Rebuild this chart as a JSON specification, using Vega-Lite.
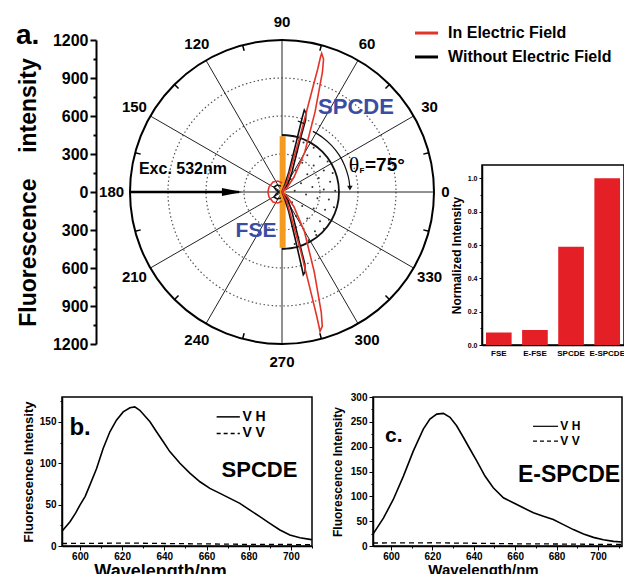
{
  "$schema": "https://vega.github.io/schema/vega-lite/v6.json",
  "padding": {"left": 16, "top": 14, "right": 0, "bottom": 0},
  "spacing": 20,
  "config": {
    "font": "Liberation Sans",
    "view": {"stroke": null},
    "axis": {"labelFontWeight": "bold", "titleFontWeight": "bold", "domainColor": "#000", "tickColor": "#000", "labelColor": "#000", "titleColor": "#000", "grid": false, "labelFlush": false, "labelOverlap": false}
  },
  "vconcat": [
    {
      "bounds": "flush",
      "spacing": 48,
      "hconcat": [
        {"width": 20, "height": 304, "data": {"values": [{"t": ""}]}, "mark": "text", "encoding": {"text": {"field": "t"}}},
        {
          "width": 304,
          "height": 304,
          "encoding": {
            "x": {"field": "x", "type": "quantitative", "scale": {"domain": [-1200, 1200], "nice": false, "zero": false}, "axis": null},
            "y": {"field": "y", "type": "quantitative", "scale": {"domain": [-1200, 1200], "nice": false, "zero": false},
              "axis": {"values": [-1200, -1050, -900, -750, -600, -450, -300, -150, 0, 150, 300, 450, 600, 750, 900, 1050, 1200],
                "labelExpr": "datum.value % 300 == 0 ? abs(datum.value) : ''",
                "tickSize": {"condition": {"test": "datum.value % 300 != 0", "value": 3}, "value": 6},
                "offset": 34, "title": "Fluorescence\u00a0\u00a0\u00a0\u00a0intensity", "titleFontSize": 23, "titlePadding": 12,
                "labelFontSize": 16, "labelPadding": 2, "domainWidth": 2, "tickWidth": 2}}
          },
          "layer": [
            {"data": {"values": [
              {"x": 90, "y": 400}, {"x": 170, "y": 390}, {"x": 250, "y": 350}, {"x": 120, "y": 320}, {"x": 200, "y": 290}, {"x": 300, "y": 280}, {"x": 360, "y": 240}, {"x": 80, "y": 250}, {"x": 160, "y": 230}, {"x": 250, "y": 210}, {"x": 330, "y": 170}, {"x": 400, "y": 150}, {"x": 110, "y": 170}, {"x": 200, "y": 140}, {"x": 290, "y": 110}, {"x": 380, "y": 80}, {"x": 70, "y": 100}, {"x": 150, "y": 70}, {"x": 240, "y": 40}, {"x": 330, "y": 20}, {"x": 420, "y": 10}, {"x": 100, "y": 10}, {"x": 190, "y": -20}, {"x": 280, "y": -50}, {"x": 370, "y": -60}, {"x": 80, "y": -80}, {"x": 160, "y": -110}, {"x": 250, "y": -130}, {"x": 340, "y": -140}, {"x": 410, "y": -120}, {"x": 110, "y": -190}, {"x": 200, "y": -210}, {"x": 300, "y": -230}, {"x": 370, "y": -220}, {"x": 80, "y": -270}, {"x": 170, "y": -290}, {"x": 260, "y": -310}, {"x": 330, "y": -290}, {"x": 130, "y": -360}, {"x": 210, "y": -380}, {"x": 100, "y": -410}, {"x": 270, "y": -340}
            ]}, "mark": {"type": "point", "filled": true, "size": 4, "color": "#333", "opacity": 1}},
            {"data": {"values": [{"x": 0, "y": 0, "r": 300}, {"x": 0, "y": 0, "r": 600}, {"x": 0, "y": 0, "r": 900}]},
              "mark": {"type": "point", "filled": false, "stroke": "#555", "strokeWidth": 1.2, "strokeDash": [1.5, 2.5], "opacity": 1},
              "encoding": {"size": {"field": "r", "type": "quantitative", "scale": {"type": "pow", "exponent": 2, "domain": [0, 1200], "range": [0, 92416]}, "legend": null}}},
            {"data": {"values": [
              {"x": 1200, "y": 0, "x2": -1200, "y2": 0},
              {"x": 1039.2, "y": 600, "x2": -1039.2, "y2": -600},
              {"x": 600, "y": 1039.2, "x2": -600, "y2": -1039.2},
              {"x": 0, "y": 1200, "x2": 0, "y2": -1200},
              {"x": -600, "y": 1039.2, "x2": 600, "y2": -1039.2},
              {"x": -1039.2, "y": 600, "x2": 1039.2, "y2": -600}
            ]}, "mark": {"type": "rule", "color": "#222", "strokeWidth": 1}, "encoding": {"x2": {"field": "x2"}, "y2": {"field": "y2"}}},
            {"data": {"values": [{"x": 0, "y": 0, "r": 1200}]},
              "mark": {"type": "point", "filled": false, "stroke": "#000", "strokeWidth": 2, "opacity": 1},
              "encoding": {"size": {"field": "r", "type": "quantitative", "scale": {"type": "pow", "exponent": 2, "domain": [0, 1200], "range": [0, 92416]}, "legend": null}}},
            {"data": {"values": [
              {"x": 1159.1, "y": 310.6, "x2": 1115.6, "y2": 298.9},
              {"x": 848.5, "y": 848.5, "x2": 816.7, "y2": 816.7},
              {"x": 310.6, "y": 1159.1, "x2": 298.9, "y2": 1115.6},
              {"x": -310.6, "y": 1159.1, "x2": -298.9, "y2": 1115.6},
              {"x": -848.5, "y": 848.5, "x2": -816.7, "y2": 816.7},
              {"x": -1159.1, "y": 310.6, "x2": -1115.6, "y2": 298.9},
              {"x": -1159.1, "y": -310.6, "x2": -1115.6, "y2": -298.9},
              {"x": -848.5, "y": -848.5, "x2": -816.7, "y2": -816.7},
              {"x": -310.6, "y": -1159.1, "x2": -298.9, "y2": -1115.6},
              {"x": 310.6, "y": -1159.1, "x2": 298.9, "y2": -1115.6},
              {"x": 848.5, "y": -848.5, "x2": 816.7, "y2": -816.7},
              {"x": 1159.1, "y": -310.6, "x2": 1115.6, "y2": -298.9}
            ]}, "mark": {"type": "rule", "color": "#000", "strokeWidth": 1.5}, "encoding": {"x2": {"field": "x2"}, "y2": {"field": "y2"}}},
            {"data": {"values": [{"x": 5, "y": 440, "y2": -440}]}, "mark": {"type": "rule", "color": "#f39a1f", "strokeWidth": 6}, "encoding": {"y2": {"field": "y2"}}},
            {"data": {"values": [
              {"x": 0, "y": 450}, {"x": 116.5, "y": 434.7}, {"x": 225, "y": 389.7}, {"x": 318.2, "y": 318.2}, {"x": 389.7, "y": 225}, {"x": 434.7, "y": 116.5}, {"x": 450, "y": 0}, {"x": 434.7, "y": -116.5}, {"x": 389.7, "y": -225}, {"x": 318.2, "y": -318.2}, {"x": 225, "y": -389.7}, {"x": 116.5, "y": -434.7}, {"x": 0, "y": -450}
            ]}, "mark": {"type": "line", "color": "#111", "strokeWidth": 1.8, "interpolate": "cardinal"}, "encoding": {"order": {"value": null}}},
            {"data": {"values": [
              {"s": "top", "x": 0, "y": 0}, {"s": "top", "x": 24, "y": 63}, {"s": "top", "x": 54, "y": 158}, {"s": "top", "x": 113, "y": 395}, {"s": "top", "x": 161, "y": 592}, {"s": "top", "x": 176, "y": 647}, {"s": "top", "x": 189, "y": 624}, {"s": "top", "x": 186, "y": 568}, {"s": "top", "x": 138, "y": 395}, {"s": "top", "x": 79, "y": 158}, {"s": "top", "x": 47, "y": 63}, {"s": "top", "x": 0, "y": 0},
              {"s": "bot", "x": 0, "y": 0}, {"s": "bot", "x": 24, "y": -63}, {"s": "bot", "x": 54, "y": -158}, {"s": "bot", "x": 110, "y": -395}, {"s": "bot", "x": 155, "y": -592}, {"s": "bot", "x": 168, "y": -653}, {"s": "bot", "x": 183, "y": -630}, {"s": "bot", "x": 180, "y": -568}, {"s": "bot", "x": 136, "y": -395}, {"s": "bot", "x": 79, "y": -158}, {"s": "bot", "x": 47, "y": -63}, {"s": "bot", "x": 0, "y": 0},
              {"s": "small", "x": -8, "y": 47}, {"s": "small", "x": -39, "y": 55}, {"s": "small", "x": -63, "y": 39}, {"s": "small", "x": -47, "y": 16}, {"s": "small", "x": -24, "y": 0}, {"s": "small", "x": -47, "y": -16}, {"s": "small", "x": -63, "y": -39}, {"s": "small", "x": -39, "y": -55}, {"s": "small", "x": -8, "y": -47}
            ]}, "mark": {"type": "line", "color": "#111", "strokeWidth": 1.6}, "encoding": {"detail": {"field": "s"}, "order": {"value": null}}},
            {"data": {"values": [
              {"s": "top", "x": 0, "y": 0}, {"s": "top", "x": 39, "y": 79}, {"s": "top", "x": 152, "y": 474}, {"s": "top", "x": 234, "y": 790}, {"s": "top", "x": 282, "y": 971}, {"s": "top", "x": 304, "y": 1066}, {"s": "top", "x": 313, "y": 1095}, {"s": "top", "x": 328, "y": 1050}, {"s": "top", "x": 319, "y": 947}, {"s": "top", "x": 261, "y": 632}, {"s": "top", "x": 180, "y": 316}, {"s": "top", "x": 95, "y": 118}, {"s": "top", "x": 39, "y": 32}, {"s": "top", "x": 0, "y": 0},
              {"s": "bot", "x": 0, "y": 0}, {"s": "bot", "x": 39, "y": -79}, {"s": "bot", "x": 150, "y": -474}, {"s": "bot", "x": 228, "y": -790}, {"s": "bot", "x": 272, "y": -971}, {"s": "bot", "x": 293, "y": -1066}, {"s": "bot", "x": 300, "y": -1100}, {"s": "bot", "x": 318, "y": -1060}, {"s": "bot", "x": 310, "y": -950}, {"s": "bot", "x": 255, "y": -632}, {"s": "bot", "x": 178, "y": -316}, {"s": "bot", "x": 95, "y": -118}, {"s": "bot", "x": 39, "y": -32}, {"s": "bot", "x": 0, "y": 0},
              {"s": "c", "x": 0, "y": 71}, {"s": "c", "x": -32, "y": 87}, {"s": "c", "x": -71, "y": 79}, {"s": "c", "x": -103, "y": 39}, {"s": "c", "x": -111, "y": 0}, {"s": "c", "x": -103, "y": -39}, {"s": "c", "x": -71, "y": -79}, {"s": "c", "x": -32, "y": -87}, {"s": "c", "x": 0, "y": -71}
            ]}, "mark": {"type": "line", "color": "#e3342a", "strokeWidth": 1.6}, "encoding": {"detail": {"field": "s"}, "order": {"value": null}}},
            {"data": {"values": [
              {"x": 243.8, "y": 478.5}, {"x": 323.2, "y": 428.9}, {"x": 392.7, "y": 366.2}, {"x": 450.4, "y": 292.5}, {"x": 494.3, "y": 209.8}, {"x": 523.2, "y": 120.8}, {"x": 535, "y": 46.8}
            ]}, "mark": {"type": "line", "color": "#111", "strokeWidth": 1.2, "interpolate": "cardinal"}, "encoding": {"order": {"value": null}}},
            {"data": {"values": [{"x": 536, "y": 30}]}, "mark": {"type": "point", "shape": "triangle-down", "filled": true, "size": 30, "color": "#111", "opacity": 1}},
            {"data": {"values": [{"x": 125, "y": 560, "x2": 175, "y2": 540}]}, "mark": {"type": "rule", "color": "#111", "strokeWidth": 1.2}, "encoding": {"x2": {"field": "x2"}, "y2": {"field": "y2"}}},
            {"data": {"values": [{"x": -1200, "y": 0, "x2": -340}]}, "mark": {"type": "rule", "color": "#000", "strokeWidth": 2.5}, "encoding": {"x2": {"field": "x2"}}},
            {"data": {"values": [{"x": -395, "y": 0}]}, "mark": {"type": "point", "shape": "M-1,-0.4L1,0L-1,0.4Z", "filled": true, "size": 400, "color": "#000", "opacity": 1}},
            {"data": {"values": [{"x": 1050, "y": 1255, "x2": 1232}]}, "mark": {"type": "rule", "color": "#e3342a", "strokeWidth": 3}, "encoding": {"x2": {"field": "x2"}}},
            {"data": {"values": [{"x": 1050, "y": 1066, "x2": 1232}]}, "mark": {"type": "rule", "color": "#000", "strokeWidth": 3}, "encoding": {"x2": {"field": "x2"}}},
            {"data": {"values": [{"x": 1311, "y": 1255, "t": "In Electric Field"}, {"x": 1311, "y": 1066, "t": "Without Electric Field"}]},
              "mark": {"type": "text", "align": "left", "baseline": "middle", "fontSize": 16, "fontWeight": "bold", "color": "#000"}, "encoding": {"text": {"field": "t"}}},
            {"data": {"values": [
              {"x": 1290, "y": 0, "t": "0"}, {"x": 1165, "y": 672, "t": "30"}, {"x": 672, "y": 1165, "t": "60"}, {"x": 0, "y": 1345, "t": "90"}, {"x": -672, "y": 1165, "t": "120"}, {"x": -1165, "y": 672, "t": "150"}, {"x": -1345, "y": 0, "t": "180"}, {"x": -1165, "y": -672, "t": "210"}, {"x": -672, "y": -1165, "t": "240"}, {"x": 0, "y": -1345, "t": "270"}, {"x": 672, "y": -1165, "t": "300"}, {"x": 1165, "y": -672, "t": "330"}
            ]}, "mark": {"type": "text", "align": "center", "baseline": "middle", "fontSize": 15, "fontWeight": "bold", "color": "#000"}, "encoding": {"text": {"field": "t"}}},
            {"data": {"values": [{"x": -782, "y": 182, "t": "Exc. 532nm"}]}, "mark": {"type": "text", "align": "center", "baseline": "middle", "fontSize": 16, "fontWeight": "bold", "color": "#000"}, "encoding": {"text": {"field": "t"}}},
            {"data": {"values": [{"x": 584, "y": 671, "t": "SPCDE"}]}, "mark": {"type": "text", "align": "center", "baseline": "middle", "fontSize": 22, "fontWeight": "bold", "color": "#3b4ca3"}, "encoding": {"text": {"field": "t"}}},
            {"data": {"values": [{"x": -205, "y": -308, "t": "FSE"}]}, "mark": {"type": "text", "align": "center", "baseline": "middle", "fontSize": 21, "fontWeight": "bold", "color": "#3b4ca3"}, "encoding": {"text": {"field": "t"}}},
            {"data": {"values": [{"x": 568, "y": 213, "t": "θ"}]}, "mark": {"type": "text", "align": "center", "baseline": "middle", "fontSize": 22, "font": "Liberation Serif", "color": "#000"}, "encoding": {"text": {"field": "t"}}},
            {"data": {"values": [{"x": 632, "y": 166, "t": "F"}]}, "mark": {"type": "text", "align": "center", "baseline": "middle", "fontSize": 8, "fontWeight": "bold", "color": "#000"}, "encoding": {"text": {"field": "t"}}},
            {"data": {"values": [{"x": 655, "y": 213, "t": "=75°"}]}, "mark": {"type": "text", "align": "left", "baseline": "middle", "fontSize": 19, "fontWeight": "bold", "color": "#000"}, "encoding": {"text": {"field": "t"}}},
            {"data": {"values": [{"x": -2100, "y": 1232, "t": "a."}]}, "mark": {"type": "text", "align": "left", "baseline": "middle", "fontSize": 28, "fontWeight": "bold", "color": "#000"}, "encoding": {"text": {"field": "t"}}}
          ]
        },
        {
          "bounds": "flush",
          "spacing": 0,
          "vconcat": [
            {"width": 142, "height": 125, "data": {"values": [{"t": ""}]}, "mark": "text", "encoding": {"text": {"field": "t"}}},
            {
              "width": 142,
              "height": 180,
              "view": {"stroke": "#000", "strokeWidth": 1.5},
              "data": {"values": [{"k": "FSE", "v": 0.075}, {"k": "E-FSE", "v": 0.09}, {"k": "SPCDE", "v": 0.59}, {"k": "E-SPCDE", "v": 1.0}]},
              "mark": {"type": "bar", "color": "#e41f26"},
              "encoding": {
                "x": {"field": "k", "type": "nominal", "sort": null, "scale": {"paddingInner": 0.29, "paddingOuter": 0.11},
                  "axis": {"title": null, "labelAngle": 0, "labelFontSize": 8, "ticks": false, "labelPadding": 4, "domainWidth": 1.5}},
                "y": {"field": "v", "type": "quantitative", "scale": {"domain": [0, 1.08], "nice": false},
                  "axis": {"values": [0, 0.1, 0.2, 0.3, 0.4, 0.5, 0.6, 0.7, 0.8, 0.9, 1.0],
                    "labelExpr": "round(datum.value*10) % 2 == 0 ? format(datum.value, '.1f') : ''",
                    "tickSize": {"condition": {"test": "round(datum.value*10) % 2 != 0", "value": 2}, "value": 3},
                    "title": "Normalized Intensity", "titleFontSize": 12, "titlePadding": 4, "labelFontSize": 7, "labelPadding": 2, "domainWidth": 1.5}}
              }
            }
          ]
        }
      ]
    },
    {
      "bounds": "flush",
      "spacing": 61,
      "hconcat": [
        {
          "width": 250,
          "height": 149,
          "view": {"stroke": "#000", "strokeWidth": 1.5},
          "encoding": {
            "x": {"field": "lam", "type": "quantitative", "scale": {"domain": [591.5, 710], "nice": false, "zero": false},
              "axis": {"values": [600, 610, 620, 630, 640, 650, 660, 670, 680, 690, 700, 710],
                "labelExpr": "datum.value % 20 == 0 ? datum.value : ''",
                "tickSize": {"condition": {"test": "datum.value % 20 != 0", "value": 2}, "value": 4},
                "title": "Wavelength/nm", "titleFontSize": 18, "titleX": 98, "titlePadding": 1, "labelFontSize": 10, "labelPadding": 1, "domainWidth": 1.5}},
            "y": {"field": "v", "type": "quantitative", "scale": {"domain": [0, 180], "nice": false},
              "axis": {"values": [0, 25, 50, 75, 100, 125, 150, 175],
                "labelExpr": "datum.value % 50 == 0 ? datum.value : ''",
                "tickSize": {"condition": {"test": "datum.value % 50 != 0", "value": 2}, "value": 4},
                "title": "Fluorescence Intensity", "titleFontSize": 13, "titlePadding": 4, "labelFontSize": 10, "labelPadding": 2, "domainWidth": 1.5}}
          },
          "layer": [
            {"data": {"values": [
              {"lam": 591.5, "v": 18}, {"lam": 592, "v": 19.3}, {"lam": 595.3, "v": 29.4}, {"lam": 598, "v": 40}, {"lam": 600, "v": 49.5}, {"lam": 602.5, "v": 60}, {"lam": 604.7, "v": 73.6}, {"lam": 607.9, "v": 93.7}, {"lam": 611, "v": 117.9}, {"lam": 614.2, "v": 138}, {"lam": 617.3, "v": 152}, {"lam": 620.5, "v": 162}, {"lam": 623.7, "v": 167}, {"lam": 626, "v": 168}, {"lam": 628.4, "v": 164}, {"lam": 630.8, "v": 157}, {"lam": 633.2, "v": 150}, {"lam": 636.3, "v": 138}, {"lam": 639.5, "v": 126}, {"lam": 642.6, "v": 114}, {"lam": 647.4, "v": 100}, {"lam": 652.1, "v": 88}, {"lam": 656.9, "v": 77.6}, {"lam": 661.6, "v": 69.6}, {"lam": 666.4, "v": 63.6}, {"lam": 671.1, "v": 57.5}, {"lam": 675.8, "v": 51.5}, {"lam": 680.6, "v": 43.4}, {"lam": 685.3, "v": 35.4}, {"lam": 690, "v": 27.4}, {"lam": 694.8, "v": 19.3}, {"lam": 699.5, "v": 13.3}, {"lam": 704.3, "v": 10}, {"lam": 709, "v": 8}, {"lam": 710, "v": 7.5}
            ]}, "mark": {"type": "line", "color": "#000", "strokeWidth": 1.6}},
            {"data": {"values": [
              {"lam": 591.5, "v": 3}, {"lam": 610, "v": 3.3}, {"lam": 625, "v": 3.5}, {"lam": 640, "v": 3}, {"lam": 660, "v": 2.5}, {"lam": 680, "v": 2}, {"lam": 700, "v": 1.8}, {"lam": 710, "v": 1.5}
            ]}, "mark": {"type": "line", "color": "#000", "strokeWidth": 1.3, "strokeDash": [5, 4]}},
            {"data": {"values": [{"lam": 664.8, "v": 156, "x2": 675.8}]}, "mark": {"type": "rule", "color": "#000", "strokeWidth": 1.5}, "encoding": {"x2": {"field": "x2"}}},
            {"data": {"values": [{"lam": 664.8, "v": 136, "x2": 675.8}]}, "mark": {"type": "rule", "color": "#000", "strokeWidth": 1.5, "strokeDash": [4, 3]}, "encoding": {"x2": {"field": "x2"}}},
            {"data": {"values": [{"lam": 677, "v": 156, "t": "V H"}, {"lam": 677, "v": 136, "t": "V V"}]}, "mark": {"type": "text", "align": "left", "baseline": "middle", "fontSize": 14, "fontWeight": "bold", "color": "#000"}, "encoding": {"text": {"field": "t"}}},
            {"data": {"values": [{"lam": 595, "v": 143, "t": "b."}]}, "mark": {"type": "text", "align": "left", "baseline": "middle", "fontSize": 24, "fontWeight": "bold", "color": "#000"}, "encoding": {"text": {"field": "t"}}},
            {"data": {"values": [{"lam": 685.1, "v": 92, "t": "SPCDE"}]}, "mark": {"type": "text", "align": "center", "baseline": "middle", "fontSize": 22, "fontWeight": "bold", "color": "#000"}, "encoding": {"text": {"field": "t"}}}
          ]
        },
        {
          "width": 249,
          "height": 149,
          "view": {"stroke": "#000", "strokeWidth": 1.5},
          "encoding": {
            "x": {"field": "lam", "type": "quantitative", "scale": {"domain": [591.3, 711.6], "nice": false, "zero": false},
              "axis": {"values": [600, 610, 620, 630, 640, 650, 660, 670, 680, 690, 700, 710],
                "labelExpr": "datum.value % 20 == 0 ? datum.value : ''",
                "tickSize": {"condition": {"test": "datum.value % 20 != 0", "value": 2}, "value": 4},
                "title": "Wavelength/nm", "titleFontSize": 15, "titleX": 110, "titlePadding": 1, "labelFontSize": 10, "labelPadding": 1, "domainWidth": 1.5}},
            "y": {"field": "v", "type": "quantitative", "scale": {"domain": [0, 300], "nice": false},
              "axis": {"values": [0, 25, 50, 75, 100, 125, 150, 175, 200, 225, 250, 275, 300],
                "labelExpr": "datum.value % 50 == 0 ? datum.value : ''",
                "tickSize": {"condition": {"test": "datum.value % 50 != 0", "value": 2}, "value": 4},
                "title": "Fluorescence Intensity", "titleFontSize": 12, "titlePadding": 6, "labelFontSize": 10, "labelPadding": 2, "domainWidth": 1.5}}
          },
          "layer": [
            {"data": {"values": [
              {"lam": 591.3, "v": 24}, {"lam": 596.4, "v": 56.6}, {"lam": 601.1, "v": 93.7}, {"lam": 606, "v": 140.8}, {"lam": 610.8, "v": 191.4}, {"lam": 615.6, "v": 235.3}, {"lam": 618.8, "v": 255.5}, {"lam": 622.1, "v": 265.6}, {"lam": 625.3, "v": 267}, {"lam": 628.5, "v": 259}, {"lam": 631.7, "v": 242}, {"lam": 635, "v": 218.5}, {"lam": 638.2, "v": 194.8}, {"lam": 641.4, "v": 171.2}, {"lam": 645.4, "v": 140.8}, {"lam": 649.4, "v": 117.3}, {"lam": 654.3, "v": 97.1}, {"lam": 659.1, "v": 87}, {"lam": 663.9, "v": 76.9}, {"lam": 668.8, "v": 66.8}, {"lam": 673.6, "v": 59.9}, {"lam": 678.4, "v": 53.2}, {"lam": 683.3, "v": 43.1}, {"lam": 688.1, "v": 33}, {"lam": 693, "v": 24.3}, {"lam": 697.8, "v": 17.4}, {"lam": 702.6, "v": 12.7}, {"lam": 707.5, "v": 9.3}, {"lam": 711.6, "v": 8}
            ]}, "mark": {"type": "line", "color": "#000", "strokeWidth": 1.6}},
            {"data": {"values": [
              {"lam": 591.3, "v": 6}, {"lam": 620, "v": 6.5}, {"lam": 640, "v": 5.5}, {"lam": 660, "v": 4.5}, {"lam": 680, "v": 4}, {"lam": 711.6, "v": 3}
            ]}, "mark": {"type": "line", "color": "#000", "strokeWidth": 1.3, "strokeDash": [5, 4]}},
            {"data": {"values": [{"lam": 668.6, "v": 241, "x2": 680.7}]}, "mark": {"type": "rule", "color": "#000", "strokeWidth": 1.2}, "encoding": {"x2": {"field": "x2"}}},
            {"data": {"values": [{"lam": 668.6, "v": 211, "x2": 680.7}]}, "mark": {"type": "rule", "color": "#000", "strokeWidth": 1.2, "strokeDash": [4, 3]}, "encoding": {"x2": {"field": "x2"}}},
            {"data": {"values": [{"lam": 681.8, "v": 241, "t": "V H"}, {"lam": 681.8, "v": 211, "t": "V V"}]}, "mark": {"type": "text", "align": "left", "baseline": "middle", "fontSize": 12, "fontWeight": "bold", "color": "#000"}, "encoding": {"text": {"field": "t"}}},
            {"data": {"values": [{"lam": 597.1, "v": 222, "t": "c."}]}, "mark": {"type": "text", "align": "left", "baseline": "middle", "fontSize": 21, "fontWeight": "bold", "color": "#000"}, "encoding": {"text": {"field": "t"}}},
            {"data": {"values": [{"lam": 686, "v": 142, "t": "E-SPCDE"}]}, "mark": {"type": "text", "align": "center", "baseline": "middle", "fontSize": 23, "fontWeight": "bold", "color": "#000"}, "encoding": {"text": {"field": "t"}}}
          ]
        }
      ]
    }
  ]
}
